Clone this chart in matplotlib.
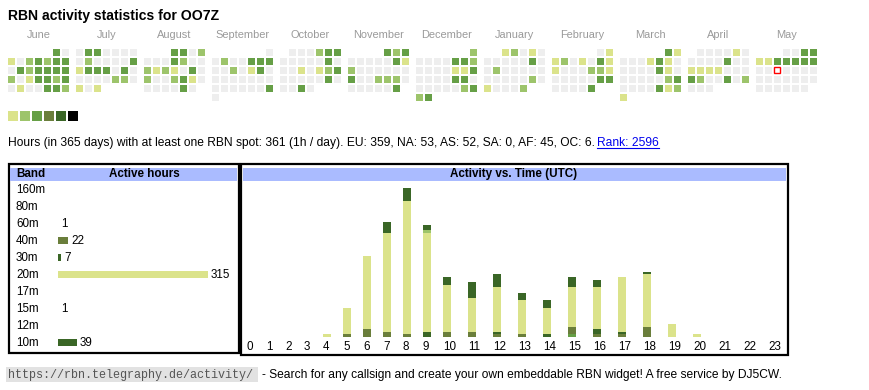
import datetime as dt
import numpy as np
import matplotlib
matplotlib.use("Agg")
import matplotlib.pyplot as plt
from matplotlib.patches import Rectangle

# ---------------- data ----------------
callsign = "OO7Z"
month_names = ["June", "July", "August", "September", "October", "November",
               "December", "January", "February", "March", "April", "May"]
month_keys = [(2024, 6), (2024, 7), (2024, 8), (2024, 9), (2024, 10), (2024, 11),
              (2024, 12), (2025, 1), (2025, 2), (2025, 3), (2025, 4), (2025, 5)]
# activity level per day (0 = none ... 3), one string per month
day_levels = [
    "301023233032333320133230100332",
    "0330000020000313330300000220101",
    "3302000320021210302002310000030",
    "002003330020130000000000000030",
    "0002330000030001012300000300030",
    "323000003120000003002220000003",
    "2000033200001130000330000002323",
    "1201000000300200000000002010002",
    "0112010311000221000003300003",
    "3100013100000310000002300003121",
    "000010000030011110003200302000",
    "0033113333300000000000000000000",
]
today = dt.date(2025, 5, 14)

bands = ["160m", "80m", "60m", "40m", "30m", "20m", "17m", "15m", "12m", "10m"]
hours = list(range(24))
hourly = {
    "60m": [0]*15 + [1] + [0]*8,
    "40m": [0, 0, 0, 0, 0, 1, 3, 2, 1, 0, 2, 2, 1, 1, 0, 3, 1, 1, 4, 0, 0, 0, 0, 0],
    "30m": [0, 0, 0, 0, 0, 0, 0, 0, 0, 2, 0, 0, 1, 0, 1, 0, 2, 1, 0, 0, 0, 0, 0, 0],
    "20m": [0, 0, 0, 0, 1, 10, 28, 38, 51, 38, 18, 13, 17, 13, 10, 15, 16, 21, 20, 5, 1, 0, 0, 0],
    "15m": [0]*9 + [1] + [0]*14,
    "10m": [0, 0, 0, 0, 0, 0, 0, 4, 5, 2, 3, 6, 5, 3, 3, 4, 3, 0, 1, 0, 0, 0, 0, 0],
}
summary = ("Hours (in 365 days) with at least one RBN spot: 361 (1h / day). "
           "EU: 359, NA: 53, AS: 52, SA: 0, AF: 45, OC: 6.")
rank_text = "Rank: 2596"
url_text = "https://rbn.telegraphy.de/activity/"
footer_text = "- Search for any callsign and create your own embeddable RBN widget! A free service by DJ5CW."

# ---------------- style ----------------
LEVEL_COLORS = ["#eeeeee", "#dbe38b", "#9dc46b", "#669f46", "#6a7e3b", "#3a6626", "#000000"]
BAND_COLORS = {"160m": "#000000", "80m": "#3a6626", "60m": "#669f46", "40m": "#6a7e3b",
               "30m": "#3a6626", "20m": "#dbe38b", "17m": "#9dc46b", "15m": "#9dc46b",
               "12m": "#669f46", "10m": "#3a6626"}
HEAD_BLUE = "#aabbff"
FONT = "Liberation Sans"
plt.rcParams["font.family"] = [FONT, "DejaVu Sans"]

W, H = 870, 390
fig = plt.figure(figsize=(W/100, H/100), dpi=100)
bg = fig.add_axes([0, 0, 1, 1])
bg.set_xlim(0, W)
bg.set_ylim(H, 0)
bg.axis("off")
R = fig.canvas.get_renderer()


def px_axes(x0, y0, x1, y1):
    a = fig.add_axes([x0/W, 1 - y1/H, (x1 - x0)/W, (y1 - y0)/H])
    a.axis("off")
    return a


def fit_text(x, y, s, width, **kw):
    t = bg.text(x, y, s, fontsize=10, **kw)
    w = t.get_window_extent(renderer=R).width
    t.set_fontsize(10*width/w)
    return t


# ---------------- title ----------------
fit_text(8, 20, f"RBN activity statistics for {callsign}", 211,
         fontweight="bold", va="baseline", ha="left")

# ---------------- calendar ----------------
for m, ((yy, mm), name, lev) in enumerate(zip(month_keys, month_names, day_levels)):
    x0 = 8 + 68*m
    bg.text(x0 + 30.5, 38.5, name, fontsize=7.9, color="#9a9a9a", ha="center", va="baseline")
    off = dt.date(yy, mm, 1).weekday()
    for d, ch in enumerate(lev):
        pos = off + d
        row, col = divmod(pos, 7)
        x = x0 + 9*col
        y = 48.7 + 9*row
        if dt.date(yy, mm, d + 1) == today:
            bg.add_patch(Rectangle((x + 0.5, y + 0.5), 6, 6, facecolor="white",
                                   edgecolor="#ff0000", lw=1.0))
        else:
            bg.add_patch(Rectangle((x, y), 7, 7, facecolor=LEVEL_COLORS[int(ch)], lw=0))

for i, c in enumerate(LEVEL_COLORS[1:]):
    bg.add_patch(Rectangle((8 + 12*i, 111), 10, 10, facecolor=c, lw=0))

# ---------------- summary line ----------------
t = fit_text(8, 146, summary, 586, ha="left", va="baseline")
fs = t.get_fontsize()
rk = bg.text(597, 146, rank_text, fontsize=fs, color="#0000ee", ha="left", va="baseline")
bb = rk.get_window_extent(renderer=R)
bg.plot([bb.x0, bb.x1], [147.8, 147.8], color="#0000ee", lw=0.8)

# ---------------- band table ----------------
bg.add_patch(Rectangle((9, 164), 230, 188.5, facecolor="none", edgecolor="black", lw=1.6))
bg.add_patch(Rectangle((10.2, 167.5), 227, 13.5, facecolor=HEAD_BLUE, lw=0))
bg.text(16, 177.3, "Band", fontsize=8.4, fontweight="bold", ha="left", va="baseline")
bg.text(144.5, 177.3, "Active hours", fontsize=8.4, fontweight="bold", ha="center", va="baseline")

band_totals = [sum(hourly.get(b, [0]*24)) for b in bands]
scale_px = 150/315
axb = px_axes(58, 180.5, 238, 350.5)
axb.set_xlim(0, 180/scale_px)
axb.set_ylim(len(bands) - 0.5, -0.5)
for i, (b, v) in enumerate(zip(bands, band_totals)):
    bg.text(16, 193 + 17*i, b, fontsize=8.35, ha="left", va="baseline")
    if v > 0:
        axb.barh(i, v, height=7/17, left=0, color=BAND_COLORS[b], lw=0)
        axb.annotate(str(v), (v, i), xytext=(2.2, -2.9), textcoords="offset points",
                     fontsize=8.35, ha="left", va="baseline", annotation_clip=False)

# ---------------- activity vs time ----------------
bg.add_patch(Rectangle((241.5, 164), 546.5, 191, facecolor="none", edgecolor="black", lw=1.6))
bg.add_patch(Rectangle((243, 167.5), 543.5, 13.5, facecolor=HEAD_BLUE, lw=0))
bg.text(514, 177.3, "Activity vs. Time (UTC)", fontsize=8.4, fontweight="bold",
        ha="center", va="baseline")

stack_order = ["160m", "80m", "60m", "40m", "30m", "20m", "17m", "15m", "12m", "10m"]
totals = np.zeros(24)
for b in stack_order:
    totals += np.array(hourly.get(b, [0]*24))
# column widths as in the html table: label width vs. bar width plus padding
col_w = [np.ceil(12 + max(6.5*len(str(h)), 8 if totals[h] > 0 else 0)) for h in hours]
col_left = 247 + np.concatenate([[0], np.cumsum(col_w)[:-1]])

PX_PER_HOUR = 2.61
axt = px_axes(242, 181, 787, 337)
axt.set_xlim(242, 787)
axt.set_ylim(0, (337 - 181)/PX_PER_HOUR)
bottom = np.zeros(24)
for b in stack_order:
    vals = np.array(hourly.get(b, [0]*24), dtype=float)
    if vals.sum() == 0:
        continue
    axt.bar(col_left, vals, width=8, bottom=bottom, align="edge", color=BAND_COLORS[b], lw=0)
    bottom += vals
for h, xl in zip(hours, col_left):
    bg.text(xl, 350, str(h), fontsize=8.35, ha="left", va="baseline")

# ---------------- footer ----------------
bg.add_patch(Rectangle((6, 367), 252, 14.5, facecolor="#e2e2e2", lw=0))
fit_text(8, 378, url_text, 248, family=["Liberation Mono", "DejaVu Sans Mono"],
         color="#555555", ha="left", va="baseline")
fit_text(262, 378, footer_text, 521, ha="left", va="baseline")

fig.savefig("out.png", dpi=100)
